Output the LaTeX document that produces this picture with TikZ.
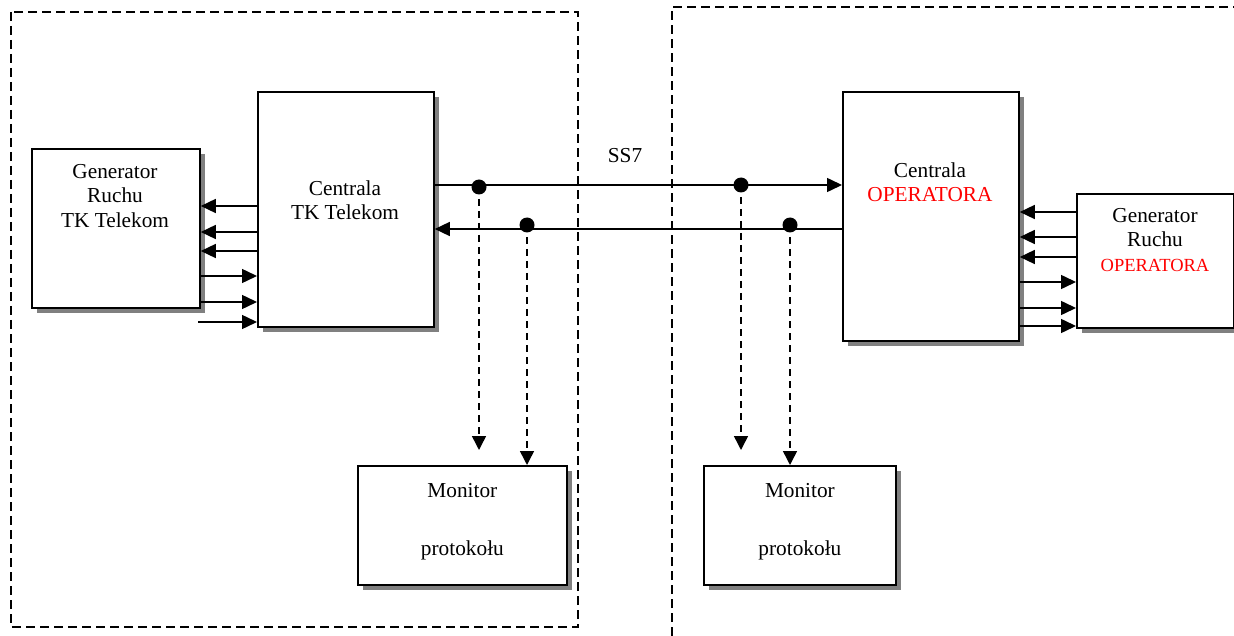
\documentclass[tikz,border=0pt]{standalone}
\usepackage{fontspec}
\setmainfont{Liberation Serif}
\usetikzlibrary{arrows.meta,shadows}
\begin{document}
\begin{tikzpicture}[x=1pt,y=-1pt,
  box/.style={draw, line width=1.8pt, fill=white, inner sep=0pt, anchor=north west,
    drop shadow={shadow xshift=5pt, shadow yshift=-5pt, fill=black!50, opacity=1}},
  txt/.style={align=center, inner sep=0pt, font=\fontsize{21.3}{24.5}\selectfont},
  arr/.style={line width=1.5pt, -{Triangle[length=15pt,width=14pt]}},
  darr/.style={line width=1.5pt, dash pattern=on 7pt off 5pt, -{Triangle[length=14pt,width=14pt]}},
  frame/.style={line width=1.5pt, dash pattern=on 9pt off 5pt},
  dot/.style={fill=black}
]
\useasboundingbox (0,0) rectangle (1234,636);

% dashed areas
\draw[frame] (11,12) rectangle (578,627);
\draw[frame] (672,636) -- (672,7) -- (1234,7);

% boxes
\node[box, minimum width=168pt, minimum height=159pt] (gt) at (31,148) {};
\node[box, minimum width=176pt, minimum height=235pt] (ct) at (257,91) {};
\node[box, minimum width=176pt, minimum height=249pt] (co) at (842,91) {};
\node[box, minimum width=157pt, minimum height=134pt] (go) at (1076,193) {};
\node[box, minimum width=209pt, minimum height=119pt] (m1) at (357,465) {};
\node[box, minimum width=192pt, minimum height=119pt] (m2) at (703,465) {};

% texts
\node[txt] (gtt) at (115,196) {Generator\\Ruchu\\TK Telekom};
\node[txt] (ctt) at (345,200) {Centrala\\TK Telekom};
\node[txt] (cot) at (930,182) {Centrala\\\textcolor{red}{OPERATORA}};
\node[txt] (got) at (1155,240) {Generator\\Ruchu\\\textcolor{red}{\fontsize{18.5}{24.5}\selectfont OPERATORA}};
\node[txt] (m1t) at ([yshift=4pt]m1.center) {Monitor\\[33.5pt]protokołu};
\node[txt] (m2t) at ([yshift=4pt]m2.center) {Monitor\\[33.5pt]protokołu};
\node[txt] (ss7) at (625,156) {SS7};

% generator TK <-> centrala TK
\draw[arr] (ct.west |- 0,206) -- (gt.east |- 0,206);
\draw[arr] (ct.west |- 0,232) -- (gt.east |- 0,232);
\draw[arr] (ct.west |- 0,251) -- (gt.east |- 0,251);
\draw[arr] (gt.east |- 0,276) -- (ct.west |- 0,276);
\draw[arr] (gt.east |- 0,302) -- (ct.west |- 0,302);
\coordinate (c6) at (198,322);
\draw[arr] (c6) -- (ct.west |- c6);

% centrala OPERATORA <-> generator OPERATORA
\draw[arr] (go.west |- 0,212) -- (co.east |- 0,212);
\draw[arr] (go.west |- 0,237) -- (co.east |- 0,237);
\draw[arr] (go.west |- 0,257) -- (co.east |- 0,257);
\draw[arr] (co.east |- 0,282) -- (go.west |- 0,282);
\draw[arr] (co.east |- 0,308) -- (go.west |- 0,308);
\draw[arr] (co.east |- 0,326) -- (go.west |- 0,326);

% SS7 links
\draw[arr] (ct.east |- 0,185) -- (co.west |- 0,185);
\draw[arr] (co.west |- 0,229) -- (ct.east |- 0,229);

% tap points
\coordinate (d1) at (479,187);
\coordinate (d2) at (741,185);
\coordinate (d3) at (527,225);
\coordinate (d4) at (790,225);
\coordinate (e1) at (479,450);
\coordinate (e2) at (741,450);
\draw[darr] (d1) -- (e1);
\draw[darr] (d3) -- (m1.north -| d3);
\draw[darr] (d2) -- (e2);
\draw[darr] (d4) -- (m2.north -| d4);
\foreach \d in {d1,d2,d3,d4} \fill[dot] (\d) circle (7.5pt);
\end{tikzpicture}
\end{document}
